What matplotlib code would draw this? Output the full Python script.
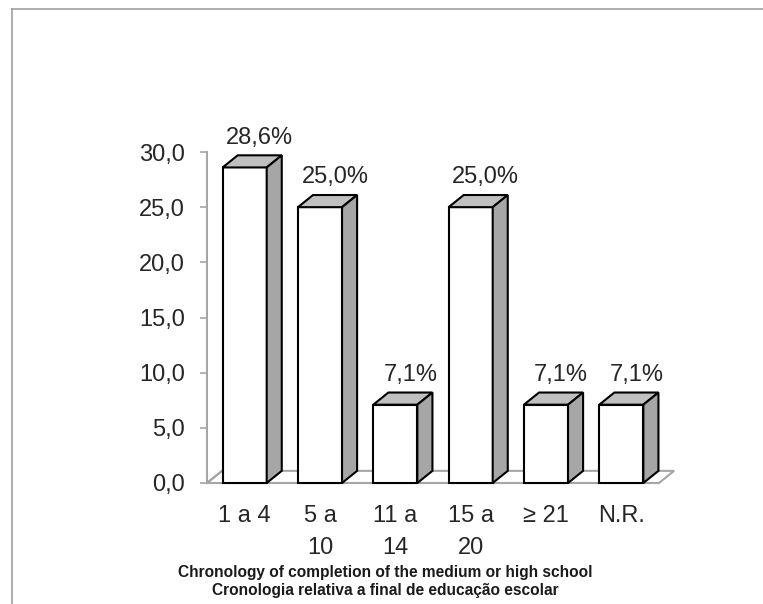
import matplotlib
matplotlib.use('Agg')
import matplotlib.pyplot as plt
from matplotlib.patches import Polygon
from matplotlib.lines import Line2D

plt.rcParams['font.family'] = ['Liberation Sans', 'DejaVu Sans']

# --- データ ---
categories = ['1 a 4', '5 a\n10', '11 a\n14', '15 a\n20', '≥ 21', 'N.R.']
values = [28.6, 25.0, 7.1, 25.0, 7.1, 7.1]
y_ticks = [0, 5, 10, 15, 20, 25, 30]
y_tick_labels = ['0,0', '5,0', '10,0', '15,0', '20,0', '25,0', '30,0']
title_lines = ['Chronology of completion of the medium or high school',
               'Cronologia relativa a final de educação escolar']

# 奥行き (データ単位)
DX = 0.2
DY = 1.1
BAR_W = 0.585
FS = 17

fig = plt.figure(figsize=(7.63, 6.04), dpi=100)
fig.patch.set_facecolor('white')
ax = fig.add_axes([207 / 763, 121 / 604, 452 / 763, 331 / 604])
ax.set_xlim(0, len(categories))
ax.set_ylim(0, 30)
ax.patch.set_visible(False)

# 床
floor = Polygon([(0, 0), (len(categories), 0),
                 (len(categories) + DX, DY), (DX, DY)],
                closed=True, facecolor='white', edgecolor='#a6a6a6',
                linewidth=1.5, clip_on=False, zorder=1)
ax.add_patch(floor)

# 棒 (前面 + 上面 + 側面)
xs = [i + 0.5 for i in range(len(categories))]
ax.bar(xs, values, width=BAR_W, color='white', edgecolor='black',
       linewidth=1.5, zorder=3, clip_on=False)
for x, v in zip(xs, values):
    l, r = x - BAR_W / 2, x + BAR_W / 2
    top = Polygon([(l, v), (r, v), (r + DX, v + DY), (l + DX, v + DY)],
                  closed=True, facecolor='#c0c0c0', edgecolor='black',
                  linewidth=1.5, clip_on=False, zorder=3)
    side = Polygon([(r, 0), (r + DX, DY), (r + DX, v + DY), (r, v)],
                   closed=True, facecolor='#a6a6a6', edgecolor='black',
                   linewidth=1.5, clip_on=False, zorder=3)
    ax.add_patch(top)
    ax.add_patch(side)
    ax.text(x + DX, v + DY + 0.6, f"{v:.1f}%".replace('.', ','),
            ha='center', va='bottom', fontsize=FS, color='#262626')

# 軸
ax.set_yticks(y_ticks)
ax.set_yticklabels(y_tick_labels, fontsize=FS, color='#262626')
ax.set_xticks(xs)
ax.set_xticklabels(categories, fontsize=FS, color='#262626', linespacing=1.6,
                   va='top')
ax.tick_params(axis='y', direction='out', length=5, width=1.2,
               color='#a6a6a6', pad=11)
ax.tick_params(axis='x', length=0, pad=16)
for s in ['top', 'right', 'bottom']:
    ax.spines[s].set_visible(False)
ax.spines['left'].set_color('#a6a6a6')
ax.spines['left'].set_linewidth(1.5)
ax.plot([0, DX], [0, DY], color='#a6a6a6', linewidth=1.5, clip_on=False,
        zorder=2)

# タイトル
fig.text(385 / 763, 1 - 572 / 604, title_lines[0], ha='center', va='center',
         fontsize=11.2, fontweight='bold', color='#1a1a1a')
fig.text(385 / 763, 1 - 591 / 604, title_lines[1], ha='center', va='center',
         fontsize=11.2, fontweight='bold', color='#1a1a1a')

# 外枠
fig.add_artist(Line2D([12 / 763, 1], [1 - 9 / 604, 1 - 9 / 604],
                      color='#a0a0a0', linewidth=1.2))
fig.add_artist(Line2D([12 / 763, 12 / 763], [0, 1 - 9 / 604],
                      color='#a0a0a0', linewidth=1.2))

fig.savefig('out.png', dpi=100, facecolor='white')
